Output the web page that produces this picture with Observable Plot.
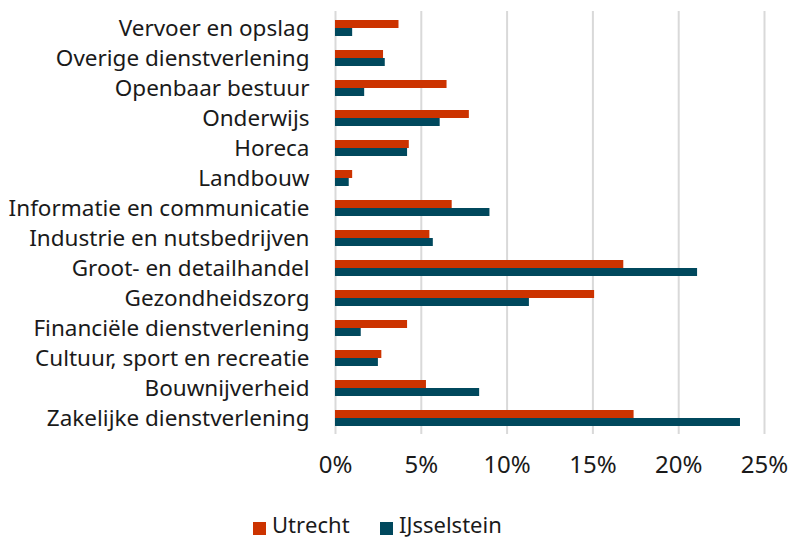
<!DOCTYPE html>
<html><head><meta charset="utf-8">
<script src="https://cdn.jsdelivr.net/npm/d3@7"></script>
<script src="https://cdn.jsdelivr.net/npm/@observablehq/plot@0.6"></script>
<style>
body{margin:0;background:#fff;font-family:"Noto Sans",sans-serif;color:#1a1a1a;position:relative;width:791px;height:540px;overflow:hidden}
#legend{position:absolute;left:0;top:509px;width:791px;height:30px;font-size:22px;line-height:30px;font-variant-ligatures:none;font-kerning:none}
#legend .item{position:absolute;top:0;display:flex;align-items:flex-start;gap:6px;white-space:nowrap}
#legend .sw{width:13px;height:13px;display:inline-block;margin-top:13px}
</style>
</head><body><div id="chart"></div><div id="legend"></div>
<script>
const categories = ["Vervoer en opslag","Overige dienstverlening","Openbaar bestuur","Onderwijs","Horeca","Landbouw","Informatie en communicatie","Industrie en nutsbedrijven","Groot- en detailhandel","Gezondheidszorg","Financiële dienstverlening","Cultuur, sport en recreatie","Bouwnijverheid","Zakelijke dienstverlening"];
const utrecht =     [3.7, 2.8, 6.5, 7.8, 4.3, 1.0, 6.8, 5.5, 16.8, 15.1, 4.2, 2.7, 5.3, 17.4];
const ijsselstein = [1.0, 2.9, 1.7, 6.1, 4.2, 0.8, 9.0, 5.7, 21.1, 11.3, 1.5, 2.5, 8.4, 23.6];
const seriesNames = ["Utrecht","IJsselstein"];
const colors = ["#cc3300","#00485d"];
const xTicks = [0,5,10,15,20,25];
const legendLeft = [253, 380];

const dataU = categories.map((c,i)=>({category:c, series:seriesNames[0], value:utrecht[i]}));
const dataI = categories.map((c,i)=>({category:c, series:seriesNames[1], value:ijsselstein[i]}));

const chart = Plot.plot({
  width:791, height:500,
  marginLeft:335, marginRight:27, marginTop:11, marginBottom:66,
  style:{fontFamily:'"Noto Sans",sans-serif', color:"#1a1a1a", background:"white"},
  x:{domain:[0,25]},
  y:{domain:categories, paddingInner:0.47, paddingOuter:0.235},
  marks:[
    Plot.gridX(xTicks,{stroke:"#d9d9d9", strokeWidth:2, strokeOpacity:1}),
    Plot.barX(dataU,{x:"value", y:"category", fill:colors[0], insetBottom:8}),
    Plot.barX(dataI,{x:"value", y:"category", fill:colors[1], insetTop:8}),
    Plot.axisX(xTicks,{tickFormat:d=>d+"%", tickSize:0, tickPadding:21, fontSize:24, label:null}),
    Plot.axisY({tickSize:0, tickPadding:26, fontSize:22.5, label:null})
  ]
});
document.getElementById("chart").append(chart);

const legend = document.getElementById("legend");
seriesNames.forEach((s,i)=>{
  const it = document.createElement("div"); it.className="item"; it.style.left = legendLeft[i]+"px";
  const sw = document.createElement("span"); sw.className="sw"; sw.style.background=colors[i];
  const tx = document.createElement("span"); tx.textContent=s;
  it.append(sw,tx); legend.append(it);
});
</script>
</body></html>
